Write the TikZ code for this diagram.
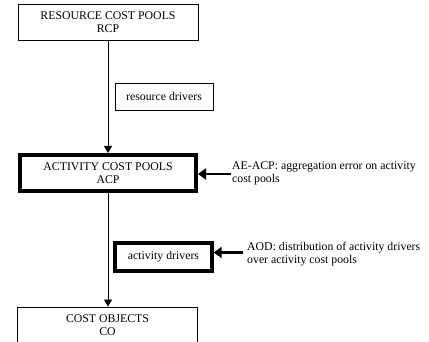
\documentclass[tikz,border=0pt]{standalone}
\usepackage{fontspec}
\setmainfont{Liberation Serif}
\usetikzlibrary{arrows.meta}
\begin{document}
\begin{tikzpicture}[x=1pt,y=-1pt,
  every node/.style={font=\fontsize{11.8}{13.5}\selectfont},
  thinbox/.style={draw,line width=0.9pt,align=center,inner sep=0pt},
  thickbox/.style={draw,line width=4pt,align=center,inner sep=0pt},
  medbox/.style={draw,line width=3.4pt,align=center,inner sep=0pt},
  flow/.style={draw,line width=0.9pt,-{Triangle[length=7pt,width=8pt]}},
  errarrow/.style={draw,line width=2.2pt,-{Triangle[length=8pt,width=11pt]}},
  note/.style={align=left,inner sep=0pt,anchor=west}]
\useasboundingbox (0,0) rectangle (429,342);
\clip (0,0) rectangle (429,342);
\node[thinbox,minimum width=180pt,minimum height=36pt] (rcp) at (108,22) {RESOURCE COST POOLS\\RCP};
\node[thinbox,minimum width=98pt,minimum height=27pt] (rd) at (164,96.5) {resource drivers};
\node[thickbox,minimum width=176pt,minimum height=36pt] (acp) at (108,173) {ACTIVITY COST POOLS\\ACP};
\node[medbox,minimum width=97pt,minimum height=28pt] (ad) at (163.5,257) {activity drivers};
\node[thinbox,minimum width=180pt,minimum height=36pt] (co) at (107.5,325) {COST OBJECTS\\CO};
\node[note] (ae) at (232,173.5) {AE-ACP: aggregation error on activity\\cost pools};
\node[note] (aod) at (247,254) {AOD: distribution of activity drivers\\over activity cost pools};
\coordinate (aetail) at (231,174);
\coordinate (aodtail) at (243,252.5);
\draw[flow] (rcp.south) -- (acp.north);
\draw[flow] (acp.south) -- (acp.south |- co.north);
\draw[errarrow] (aetail) -- (acp.east |- aetail);
\draw[errarrow] (aodtail) -- (ad.east |- aodtail);
\end{tikzpicture}
\end{document}
